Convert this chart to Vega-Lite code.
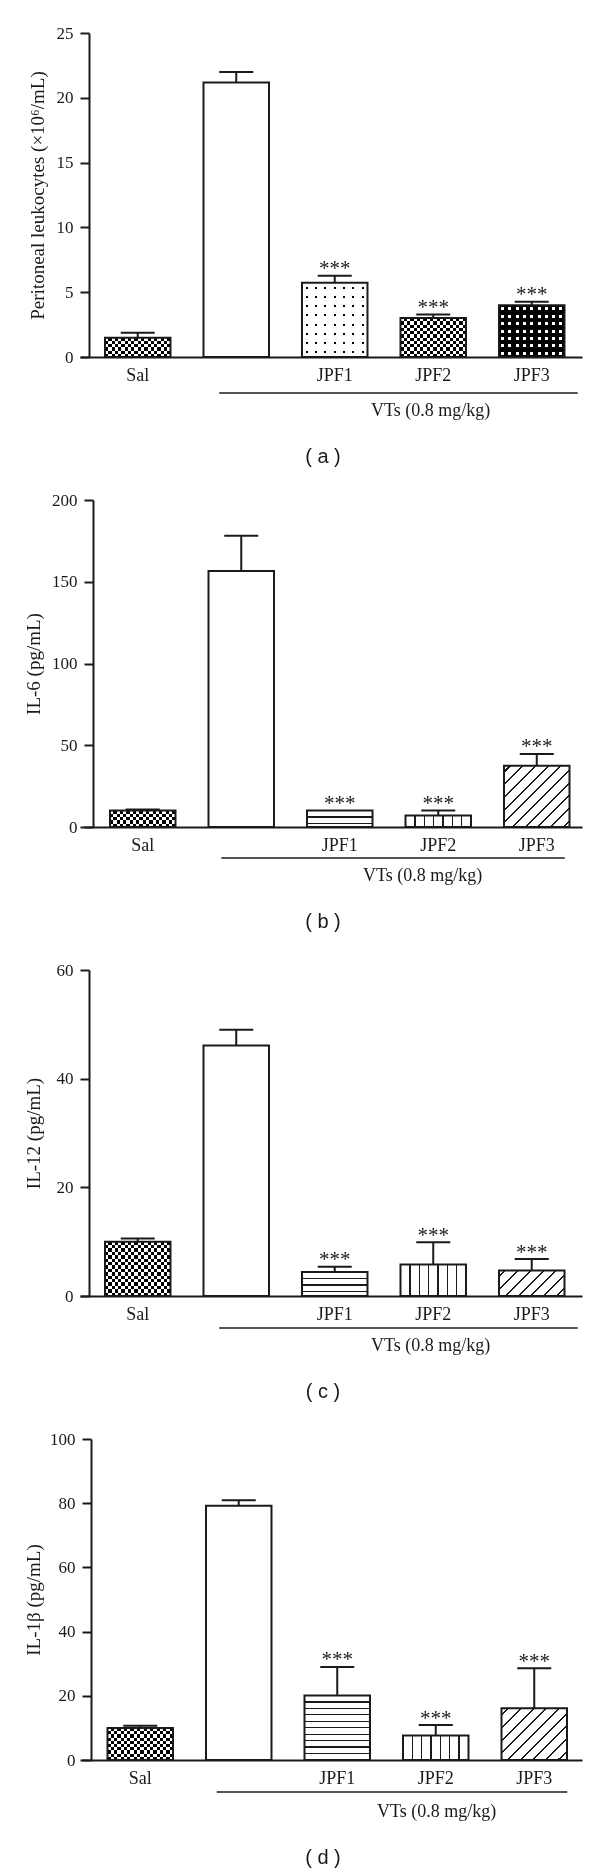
{
"$schema":"https://vega.github.io/schema/vega-lite/v6.json",
"padding":{"left":24,"top":24,"right":5,"bottom":5},
"background":"#ffffff",
"spacing":143,
"bounds":"flush",
"config":{
 "view":{"stroke":null},
 "axis":{"domainColor":"#1a1a1a","domainWidth":2,"tickColor":"#1a1a1a","tickWidth":2,"labelColor":"#1a1a1a","labelFont":"Liberation Serif","titleFont":"Liberation Serif","titleFontWeight":"normal","titleColor":"#1a1a1a","grid":false},
 "axisX":{"ticks":false,"labelFontSize":18,"labelPadding":9,"labelAngle":0,"titleFontSize":18,"titleBaseline":"alphabetic"},
 "axisY":{"tickSize":9,"labelFontSize":17,"labelPadding":7,"titleFontSize":19,"titleBaseline":"alphabetic"},
 "title":{"font":"Liberation Sans","fontSize":20,"fontWeight":"normal","color":"#1a1a1a","orient":"bottom","anchor":"middle","frame":"group","dx":-8,"offset":28}
},
"vconcat":[
{
 "width":502,"height":324,
 "title":{"text":"( a )"},
 "data":{"values":[
  {"g":"Sal","mean":1.49,"upper":1.87,"sig":""},
  {"g":"VT","mean":21.18,"upper":22.0,"sig":""},
  {"g":"JPF1","mean":5.72,"upper":6.26,"sig":"***"},
  {"g":"JPF2","mean":3.0,"upper":3.28,"sig":"***"},
  {"g":"JPF3","mean":4.0,"upper":4.26,"sig":"***"}
 ]},
 "encoding":{
  "x":{"field":"g","type":"nominal","sort":null,"scale":{"domain":["Sal","VT","JPF1","JPF2","JPF3"],"paddingInner":0.335,"paddingOuter":0.2157,"align":0.588},"axis":{"title":"VTs (0.8 mg/kg)","labelExpr":"datum.value == 'VT' ? '' : datum.value","titleX":350,"titleY":58}},
  "y":{"field":"mean","type":"quantitative","scale":{"domain":[0,25],"nice":false},"axis":{"values":[0,5,10,15,20,25],"title":"Peritoneal leukocytes (×10⁶/mL)","offset":-9,"titleX":-46}}
 },
 "layer":[
  {"mark":{"type":"bar","fill":"#ffffff"}},
  {"transform":[{"filter":"datum.g == 'Sal'"}],"mark":{"type":"bar","fill":{"gradient":"linear","x1":0,"y1":0,"x2":0,"y2":1,"stops":[{"offset":0,"color":"#000"},{"offset":0.1667,"color":"#000"},{"offset":0.1667,"color":"#fff"},{"offset":0.3333,"color":"#fff"},{"offset":0.3333,"color":"#000"},{"offset":0.5,"color":"#000"},{"offset":0.5,"color":"#fff"},{"offset":0.6667,"color":"#fff"},{"offset":0.6667,"color":"#000"},{"offset":0.8333,"color":"#000"},{"offset":0.8333,"color":"#fff"},{"offset":1,"color":"#fff"}]}}},
  {"transform":[{"filter":"datum.g == 'Sal'"}],"mark":{"type":"bar","blend":"difference","fill":{"gradient":"linear","x1":0,"y1":0,"x2":1,"y2":0,"stops":[{"offset":0,"color":"#fff"},{"offset":0.05,"color":"#fff"},{"offset":0.05,"color":"#000"},{"offset":0.1,"color":"#000"},{"offset":0.1,"color":"#fff"},{"offset":0.15,"color":"#fff"},{"offset":0.15,"color":"#000"},{"offset":0.2,"color":"#000"},{"offset":0.2,"color":"#fff"},{"offset":0.25,"color":"#fff"},{"offset":0.25,"color":"#000"},{"offset":0.3,"color":"#000"},{"offset":0.3,"color":"#fff"},{"offset":0.35,"color":"#fff"},{"offset":0.35,"color":"#000"},{"offset":0.4,"color":"#000"},{"offset":0.4,"color":"#fff"},{"offset":0.45,"color":"#fff"},{"offset":0.45,"color":"#000"},{"offset":0.5,"color":"#000"},{"offset":0.5,"color":"#fff"},{"offset":0.55,"color":"#fff"},{"offset":0.55,"color":"#000"},{"offset":0.6,"color":"#000"},{"offset":0.6,"color":"#fff"},{"offset":0.65,"color":"#fff"},{"offset":0.65,"color":"#000"},{"offset":0.7,"color":"#000"},{"offset":0.7,"color":"#fff"},{"offset":0.75,"color":"#fff"},{"offset":0.75,"color":"#000"},{"offset":0.8,"color":"#000"},{"offset":0.8,"color":"#fff"},{"offset":0.85,"color":"#fff"},{"offset":0.85,"color":"#000"},{"offset":0.9,"color":"#000"},{"offset":0.9,"color":"#fff"},{"offset":0.95,"color":"#fff"},{"offset":0.95,"color":"#000"},{"offset":1,"color":"#000"}]}}},
  {"transform":[{"filter":"datum.g == 'JPF2'"}],"mark":{"type":"bar","fill":{"gradient":"linear","x1":0,"y1":0,"x2":0,"y2":1,"stops":[{"offset":0,"color":"#000"},{"offset":0.0833,"color":"#000"},{"offset":0.0833,"color":"#fff"},{"offset":0.1667,"color":"#fff"},{"offset":0.1667,"color":"#000"},{"offset":0.25,"color":"#000"},{"offset":0.25,"color":"#fff"},{"offset":0.3333,"color":"#fff"},{"offset":0.3333,"color":"#000"},{"offset":0.4167,"color":"#000"},{"offset":0.4167,"color":"#fff"},{"offset":0.5,"color":"#fff"},{"offset":0.5,"color":"#000"},{"offset":0.5833,"color":"#000"},{"offset":0.5833,"color":"#fff"},{"offset":0.6667,"color":"#fff"},{"offset":0.6667,"color":"#000"},{"offset":0.75,"color":"#000"},{"offset":0.75,"color":"#fff"},{"offset":0.8333,"color":"#fff"},{"offset":0.8333,"color":"#000"},{"offset":0.9167,"color":"#000"},{"offset":0.9167,"color":"#fff"},{"offset":1,"color":"#fff"}]}}},
  {"transform":[{"filter":"datum.g == 'JPF2'"}],"mark":{"type":"bar","blend":"difference","fill":{"gradient":"linear","x1":0,"y1":0,"x2":1,"y2":0,"stops":[{"offset":0,"color":"#fff"},{"offset":0.05,"color":"#fff"},{"offset":0.05,"color":"#000"},{"offset":0.1,"color":"#000"},{"offset":0.1,"color":"#fff"},{"offset":0.15,"color":"#fff"},{"offset":0.15,"color":"#000"},{"offset":0.2,"color":"#000"},{"offset":0.2,"color":"#fff"},{"offset":0.25,"color":"#fff"},{"offset":0.25,"color":"#000"},{"offset":0.3,"color":"#000"},{"offset":0.3,"color":"#fff"},{"offset":0.35,"color":"#fff"},{"offset":0.35,"color":"#000"},{"offset":0.4,"color":"#000"},{"offset":0.4,"color":"#fff"},{"offset":0.45,"color":"#fff"},{"offset":0.45,"color":"#000"},{"offset":0.5,"color":"#000"},{"offset":0.5,"color":"#fff"},{"offset":0.55,"color":"#fff"},{"offset":0.55,"color":"#000"},{"offset":0.6,"color":"#000"},{"offset":0.6,"color":"#fff"},{"offset":0.65,"color":"#fff"},{"offset":0.65,"color":"#000"},{"offset":0.7,"color":"#000"},{"offset":0.7,"color":"#fff"},{"offset":0.75,"color":"#fff"},{"offset":0.75,"color":"#000"},{"offset":0.8,"color":"#000"},{"offset":0.8,"color":"#fff"},{"offset":0.85,"color":"#fff"},{"offset":0.85,"color":"#000"},{"offset":0.9,"color":"#000"},{"offset":0.9,"color":"#fff"},{"offset":0.95,"color":"#fff"},{"offset":0.95,"color":"#000"},{"offset":1,"color":"#000"}]}}},
  {"transform":[{"filter":"datum.g == 'JPF1'"}],"mark":{"type":"bar","fill":{"gradient":"linear","x1":0,"y1":0,"x2":0,"y2":1,"stops":[{"offset":0,"color":"#fff"},{"offset":0.049,"color":"#fff"},{"offset":0.049,"color":"#000"},{"offset":0.076,"color":"#000"},{"offset":0.076,"color":"#fff"},{"offset":0.174,"color":"#fff"},{"offset":0.174,"color":"#000"},{"offset":0.201,"color":"#000"},{"offset":0.201,"color":"#fff"},{"offset":0.299,"color":"#fff"},{"offset":0.299,"color":"#000"},{"offset":0.326,"color":"#000"},{"offset":0.326,"color":"#fff"},{"offset":0.424,"color":"#fff"},{"offset":0.424,"color":"#000"},{"offset":0.451,"color":"#000"},{"offset":0.451,"color":"#fff"},{"offset":0.549,"color":"#fff"},{"offset":0.549,"color":"#000"},{"offset":0.576,"color":"#000"},{"offset":0.576,"color":"#fff"},{"offset":0.674,"color":"#fff"},{"offset":0.674,"color":"#000"},{"offset":0.701,"color":"#000"},{"offset":0.701,"color":"#fff"},{"offset":0.799,"color":"#fff"},{"offset":0.799,"color":"#000"},{"offset":0.826,"color":"#000"},{"offset":0.826,"color":"#fff"},{"offset":0.924,"color":"#fff"},{"offset":0.924,"color":"#000"},{"offset":0.951,"color":"#000"},{"offset":0.951,"color":"#fff"},{"offset":1,"color":"#fff"}]}}},
  {"transform":[{"filter":"datum.g == 'JPF1'"}],"mark":{"type":"bar","blend":"lighten","fill":{"gradient":"linear","x1":0,"y1":0,"x2":1,"y2":0,"stops":[{"offset":0,"color":"#fff"},{"offset":0.0564,"color":"#fff"},{"offset":0.0564,"color":"#000"},{"offset":0.0864,"color":"#000"},{"offset":0.0864,"color":"#fff"},{"offset":0.1993,"color":"#fff"},{"offset":0.1993,"color":"#000"},{"offset":0.2293,"color":"#000"},{"offset":0.2293,"color":"#fff"},{"offset":0.3421,"color":"#fff"},{"offset":0.3421,"color":"#000"},{"offset":0.3721,"color":"#000"},{"offset":0.3721,"color":"#fff"},{"offset":0.485,"color":"#fff"},{"offset":0.485,"color":"#000"},{"offset":0.515,"color":"#000"},{"offset":0.515,"color":"#fff"},{"offset":0.6279,"color":"#fff"},{"offset":0.6279,"color":"#000"},{"offset":0.6579,"color":"#000"},{"offset":0.6579,"color":"#fff"},{"offset":0.7707,"color":"#fff"},{"offset":0.7707,"color":"#000"},{"offset":0.8007,"color":"#000"},{"offset":0.8007,"color":"#fff"},{"offset":0.9136,"color":"#fff"},{"offset":0.9136,"color":"#000"},{"offset":0.9436,"color":"#000"},{"offset":0.9436,"color":"#fff"},{"offset":1,"color":"#fff"}]}}},
  {"transform":[{"filter":"datum.g == 'JPF3'"}],"mark":{"type":"bar","fill":{"gradient":"linear","x1":0,"y1":0,"x2":0,"y2":1,"stops":[{"offset":0,"color":"#000"},{"offset":0.0424,"color":"#000"},{"offset":0.0424,"color":"#fff"},{"offset":0.1004,"color":"#fff"},{"offset":0.1004,"color":"#000"},{"offset":0.1853,"color":"#000"},{"offset":0.1853,"color":"#fff"},{"offset":0.2433,"color":"#fff"},{"offset":0.2433,"color":"#000"},{"offset":0.3281,"color":"#000"},{"offset":0.3281,"color":"#fff"},{"offset":0.3861,"color":"#fff"},{"offset":0.3861,"color":"#000"},{"offset":0.471,"color":"#000"},{"offset":0.471,"color":"#fff"},{"offset":0.529,"color":"#fff"},{"offset":0.529,"color":"#000"},{"offset":0.6139,"color":"#000"},{"offset":0.6139,"color":"#fff"},{"offset":0.6719,"color":"#fff"},{"offset":0.6719,"color":"#000"},{"offset":0.7567,"color":"#000"},{"offset":0.7567,"color":"#fff"},{"offset":0.8147,"color":"#fff"},{"offset":0.8147,"color":"#000"},{"offset":0.8996,"color":"#000"},{"offset":0.8996,"color":"#fff"},{"offset":0.9576,"color":"#fff"},{"offset":0.9576,"color":"#000"},{"offset":1,"color":"#000"}]}}},
  {"transform":[{"filter":"datum.g == 'JPF3'"}],"mark":{"type":"bar","blend":"darken","fill":{"gradient":"linear","x1":0,"y1":0,"x2":1,"y2":0,"stops":[{"offset":0,"color":"#000"},{"offset":0.0326,"color":"#000"},{"offset":0.0326,"color":"#fff"},{"offset":0.0786,"color":"#fff"},{"offset":0.0786,"color":"#000"},{"offset":0.1437,"color":"#000"},{"offset":0.1437,"color":"#fff"},{"offset":0.1897,"color":"#fff"},{"offset":0.1897,"color":"#000"},{"offset":0.2548,"color":"#000"},{"offset":0.2548,"color":"#fff"},{"offset":0.3008,"color":"#fff"},{"offset":0.3008,"color":"#000"},{"offset":0.3659,"color":"#000"},{"offset":0.3659,"color":"#fff"},{"offset":0.4119,"color":"#fff"},{"offset":0.4119,"color":"#000"},{"offset":0.477,"color":"#000"},{"offset":0.477,"color":"#fff"},{"offset":0.523,"color":"#fff"},{"offset":0.523,"color":"#000"},{"offset":0.5881,"color":"#000"},{"offset":0.5881,"color":"#fff"},{"offset":0.6341,"color":"#fff"},{"offset":0.6341,"color":"#000"},{"offset":0.6992,"color":"#000"},{"offset":0.6992,"color":"#fff"},{"offset":0.7452,"color":"#fff"},{"offset":0.7452,"color":"#000"},{"offset":0.8103,"color":"#000"},{"offset":0.8103,"color":"#fff"},{"offset":0.8563,"color":"#fff"},{"offset":0.8563,"color":"#000"},{"offset":0.9214,"color":"#000"},{"offset":0.9214,"color":"#fff"},{"offset":0.9674,"color":"#fff"},{"offset":0.9674,"color":"#000"},{"offset":1,"color":"#000"}]}}},
  {"mark":{"type":"bar","fill":"transparent","stroke":"#1a1a1a","strokeWidth":2}},
  {"transform":[{"filter":"datum.upper > datum.mean"}],"mark":{"type":"rule","stroke":"#1a1a1a","strokeWidth":2},"encoding":{"y2":{"field":"upper"}}},
  {"transform":[{"filter":"datum.upper > datum.mean"}],"mark":{"type":"tick","color":"#1a1a1a","size":34,"thickness":2,"opacity":1},"encoding":{"y":{"field":"upper","type":"quantitative"}}},
  {"transform":[{"filter":"datum.sig != ''"}],"mark":{"type":"text","font":"Liberation Serif","fontSize":21,"color":"#1a1a1a","baseline":"alphabetic","dy":-0.5},"encoding":{"y":{"field":"upper","type":"quantitative"},"text":{"field":"sig"}}},
  {"transform":[{"filter":"datum.g == 'VT'"}],"mark":{"type":"rule","stroke":"#1a1a1a","strokeWidth":1.5,"xOffset":-17,"x2Offset":46},"encoding":{"x":{"datum":"VT"},"x2":{"datum":"JPF3"},"y":{"datum":-2.78}}}
 ]
},
{
 "width":502,"height":327,
 "title":{"text":"( b )"},
 "data":{"values":[
  {"g":"Sal","mean":10.1,"upper":10.7,"sig":""},
  {"g":"VT","mean":156.5,"upper":178.2,"sig":""},
  {"g":"JPF1","mean":10.1,"upper":10.1,"sig":"***"},
  {"g":"JPF2","mean":7.0,"upper":10.1,"sig":"***"},
  {"g":"JPF3","mean":37.5,"upper":44.7,"sig":"***"}
 ]},
 "encoding":{
  "x":{"field":"g","type":"nominal","sort":null,"scale":{"domain":["Sal","VT","JPF1","JPF2","JPF3"],"paddingInner":0.335,"paddingOuter":0.2157,"align":0.706},"axis":{"title":"VTs (0.8 mg/kg)","labelExpr":"datum.value == 'VT' ? '' : datum.value","titleX":342,"titleY":53}},
  "y":{"field":"mean","type":"quantitative","scale":{"domain":[0,200],"nice":false},"axis":{"values":[0,50,100,150,200],"title":"IL-6 (pg/mL)","offset":-13,"titleX":-54}}
 },
 "layer":[
  {"mark":{"type":"bar","fill":"#ffffff"}},
  {"transform":[{"filter":"datum.g == 'Sal'"}],"mark":{"type":"bar","fill":{"gradient":"linear","x1":0,"y1":0,"x2":0,"y2":1,"stops":[{"offset":0,"color":"#000"},{"offset":0.2,"color":"#000"},{"offset":0.2,"color":"#fff"},{"offset":0.4,"color":"#fff"},{"offset":0.4,"color":"#000"},{"offset":0.6,"color":"#000"},{"offset":0.6,"color":"#fff"},{"offset":0.8,"color":"#fff"},{"offset":0.8,"color":"#000"},{"offset":1,"color":"#000"}]}}},
  {"transform":[{"filter":"datum.g == 'Sal'"}],"mark":{"type":"bar","blend":"difference","fill":{"gradient":"linear","x1":0,"y1":0,"x2":1,"y2":0,"stops":[{"offset":0,"color":"#fff"},{"offset":0.05,"color":"#fff"},{"offset":0.05,"color":"#000"},{"offset":0.1,"color":"#000"},{"offset":0.1,"color":"#fff"},{"offset":0.15,"color":"#fff"},{"offset":0.15,"color":"#000"},{"offset":0.2,"color":"#000"},{"offset":0.2,"color":"#fff"},{"offset":0.25,"color":"#fff"},{"offset":0.25,"color":"#000"},{"offset":0.3,"color":"#000"},{"offset":0.3,"color":"#fff"},{"offset":0.35,"color":"#fff"},{"offset":0.35,"color":"#000"},{"offset":0.4,"color":"#000"},{"offset":0.4,"color":"#fff"},{"offset":0.45,"color":"#fff"},{"offset":0.45,"color":"#000"},{"offset":0.5,"color":"#000"},{"offset":0.5,"color":"#fff"},{"offset":0.55,"color":"#fff"},{"offset":0.55,"color":"#000"},{"offset":0.6,"color":"#000"},{"offset":0.6,"color":"#fff"},{"offset":0.65,"color":"#fff"},{"offset":0.65,"color":"#000"},{"offset":0.7,"color":"#000"},{"offset":0.7,"color":"#fff"},{"offset":0.75,"color":"#fff"},{"offset":0.75,"color":"#000"},{"offset":0.8,"color":"#000"},{"offset":0.8,"color":"#fff"},{"offset":0.85,"color":"#fff"},{"offset":0.85,"color":"#000"},{"offset":0.9,"color":"#000"},{"offset":0.9,"color":"#fff"},{"offset":0.95,"color":"#fff"},{"offset":0.95,"color":"#000"},{"offset":1,"color":"#000"}]}}},
  {"transform":[{"filter":"datum.g == 'JPF1'"}],"mark":{"type":"bar","fill":{"gradient":"linear","x1":0,"y1":0,"x2":0,"y2":1,"stops":[{"offset":0,"color":"#fff"},{"offset":0.36,"color":"#fff"},{"offset":0.36,"color":"#1a1a1a"},{"offset":0.44,"color":"#1a1a1a"},{"offset":0.44,"color":"#fff"},{"offset":0.74,"color":"#fff"},{"offset":0.74,"color":"#1a1a1a"},{"offset":0.82,"color":"#1a1a1a"},{"offset":0.82,"color":"#fff"},{"offset":1,"color":"#fff"}]}}},
  {"transform":[{"filter":"datum.g == 'JPF2'"}],"mark":{"type":"bar","fill":{"gradient":"linear","x1":0,"y1":0,"x2":1,"y2":0,"stops":[{"offset":0,"color":"#fff"},{"offset":0.1329,"color":"#fff"},{"offset":0.1329,"color":"#1a1a1a"},{"offset":0.1529,"color":"#1a1a1a"},{"offset":0.1529,"color":"#fff"},{"offset":0.2757,"color":"#fff"},{"offset":0.2757,"color":"#1a1a1a"},{"offset":0.2957,"color":"#1a1a1a"},{"offset":0.2957,"color":"#fff"},{"offset":0.4186,"color":"#fff"},{"offset":0.4186,"color":"#1a1a1a"},{"offset":0.4386,"color":"#1a1a1a"},{"offset":0.4386,"color":"#fff"},{"offset":0.5614,"color":"#fff"},{"offset":0.5614,"color":"#1a1a1a"},{"offset":0.5814,"color":"#1a1a1a"},{"offset":0.5814,"color":"#fff"},{"offset":0.7043,"color":"#fff"},{"offset":0.7043,"color":"#1a1a1a"},{"offset":0.7243,"color":"#1a1a1a"},{"offset":0.7243,"color":"#fff"},{"offset":0.8471,"color":"#fff"},{"offset":0.8471,"color":"#1a1a1a"},{"offset":0.8671,"color":"#1a1a1a"},{"offset":0.8671,"color":"#fff"},{"offset":1,"color":"#fff"}]}}},
  {"transform":[{"filter":"datum.g == 'JPF3'"}],"mark":{"type":"bar","fill":{"gradient":"linear","x1":0,"y1":0,"x2":1.032,"y2":0.966,"stops":[{"offset":0,"color":"#fff"},{"offset":0.0417,"color":"#fff"},{"offset":0.0417,"color":"#1a1a1a"},{"offset":0.0583,"color":"#1a1a1a"},{"offset":0.0583,"color":"#fff"},{"offset":0.1417,"color":"#fff"},{"offset":0.1417,"color":"#1a1a1a"},{"offset":0.1583,"color":"#1a1a1a"},{"offset":0.1583,"color":"#fff"},{"offset":0.2417,"color":"#fff"},{"offset":0.2417,"color":"#1a1a1a"},{"offset":0.2583,"color":"#1a1a1a"},{"offset":0.2583,"color":"#fff"},{"offset":0.3417,"color":"#fff"},{"offset":0.3417,"color":"#1a1a1a"},{"offset":0.3583,"color":"#1a1a1a"},{"offset":0.3583,"color":"#fff"},{"offset":0.4417,"color":"#fff"},{"offset":0.4417,"color":"#1a1a1a"},{"offset":0.4583,"color":"#1a1a1a"},{"offset":0.4583,"color":"#fff"},{"offset":0.5417,"color":"#fff"},{"offset":0.5417,"color":"#1a1a1a"},{"offset":0.5583,"color":"#1a1a1a"},{"offset":0.5583,"color":"#fff"},{"offset":0.6417,"color":"#fff"},{"offset":0.6417,"color":"#1a1a1a"},{"offset":0.6583,"color":"#1a1a1a"},{"offset":0.6583,"color":"#fff"},{"offset":0.7417,"color":"#fff"},{"offset":0.7417,"color":"#1a1a1a"},{"offset":0.7583,"color":"#1a1a1a"},{"offset":0.7583,"color":"#fff"},{"offset":0.8417,"color":"#fff"},{"offset":0.8417,"color":"#1a1a1a"},{"offset":0.8583,"color":"#1a1a1a"},{"offset":0.8583,"color":"#fff"},{"offset":0.9417,"color":"#fff"},{"offset":0.9417,"color":"#1a1a1a"},{"offset":0.9583,"color":"#1a1a1a"},{"offset":0.9583,"color":"#fff"},{"offset":1,"color":"#fff"}]}}},
  {"mark":{"type":"bar","fill":"transparent","stroke":"#1a1a1a","strokeWidth":2}},
  {"transform":[{"filter":"datum.upper > datum.mean"}],"mark":{"type":"rule","stroke":"#1a1a1a","strokeWidth":2},"encoding":{"y2":{"field":"upper"}}},
  {"transform":[{"filter":"datum.upper > datum.mean"}],"mark":{"type":"tick","color":"#1a1a1a","size":34,"thickness":2,"opacity":1},"encoding":{"y":{"field":"upper","type":"quantitative"}}},
  {"transform":[{"filter":"datum.sig != ''"}],"mark":{"type":"text","font":"Liberation Serif","fontSize":21,"color":"#1a1a1a","baseline":"alphabetic","dy":-0.5},"encoding":{"y":{"field":"upper","type":"quantitative"},"text":{"field":"sig"}}},
  {"transform":[{"filter":"datum.g == 'VT'"}],"mark":{"type":"rule","stroke":"#1a1a1a","strokeWidth":1.5,"xOffset":-20,"x2Offset":28},"encoding":{"x":{"datum":"VT"},"x2":{"datum":"JPF3"},"y":{"datum":-19}}}
 ]
},
{
 "width":502,"height":326,
 "title":{"text":"( c )"},
 "data":{"values":[
  {"g":"Sal","mean":10.0,"upper":10.57,"sig":""},
  {"g":"VT","mean":46.1,"upper":49.0,"sig":""},
  {"g":"JPF1","mean":4.4,"upper":5.4,"sig":"***"},
  {"g":"JPF2","mean":5.8,"upper":9.9,"sig":"***"},
  {"g":"JPF3","mean":4.7,"upper":6.8,"sig":"***"}
 ]},
 "encoding":{
  "x":{"field":"g","type":"nominal","sort":null,"scale":{"domain":["Sal","VT","JPF1","JPF2","JPF3"],"paddingInner":0.335,"paddingOuter":0.2157,"align":0.588},"axis":{"title":"VTs (0.8 mg/kg)","labelExpr":"datum.value == 'VT' ? '' : datum.value","titleX":350,"titleY":54}},
  "y":{"field":"mean","type":"quantitative","scale":{"domain":[0,60],"nice":false},"axis":{"values":[0,20,40,60],"title":"IL-12 (pg/mL)","offset":-9,"titleX":-50}}
 },
 "layer":[
  {"mark":{"type":"bar","fill":"#ffffff"}},
  {"transform":[{"filter":"datum.g == 'Sal'"}],"mark":{"type":"bar","fill":{"gradient":"linear","x1":0,"y1":0,"x2":0,"y2":1,"stops":[{"offset":0,"color":"#000"},{"offset":0.0625,"color":"#000"},{"offset":0.0625,"color":"#fff"},{"offset":0.125,"color":"#fff"},{"offset":0.125,"color":"#000"},{"offset":0.1875,"color":"#000"},{"offset":0.1875,"color":"#fff"},{"offset":0.25,"color":"#fff"},{"offset":0.25,"color":"#000"},{"offset":0.3125,"color":"#000"},{"offset":0.3125,"color":"#fff"},{"offset":0.375,"color":"#fff"},{"offset":0.375,"color":"#000"},{"offset":0.4375,"color":"#000"},{"offset":0.4375,"color":"#fff"},{"offset":0.5,"color":"#fff"},{"offset":0.5,"color":"#000"},{"offset":0.5625,"color":"#000"},{"offset":0.5625,"color":"#fff"},{"offset":0.625,"color":"#fff"},{"offset":0.625,"color":"#000"},{"offset":0.6875,"color":"#000"},{"offset":0.6875,"color":"#fff"},{"offset":0.75,"color":"#fff"},{"offset":0.75,"color":"#000"},{"offset":0.8125,"color":"#000"},{"offset":0.8125,"color":"#fff"},{"offset":0.875,"color":"#fff"},{"offset":0.875,"color":"#000"},{"offset":0.9375,"color":"#000"},{"offset":0.9375,"color":"#fff"},{"offset":1,"color":"#fff"}]}}},
  {"transform":[{"filter":"datum.g == 'Sal'"}],"mark":{"type":"bar","blend":"difference","fill":{"gradient":"linear","x1":0,"y1":0,"x2":1,"y2":0,"stops":[{"offset":0,"color":"#fff"},{"offset":0.05,"color":"#fff"},{"offset":0.05,"color":"#000"},{"offset":0.1,"color":"#000"},{"offset":0.1,"color":"#fff"},{"offset":0.15,"color":"#fff"},{"offset":0.15,"color":"#000"},{"offset":0.2,"color":"#000"},{"offset":0.2,"color":"#fff"},{"offset":0.25,"color":"#fff"},{"offset":0.25,"color":"#000"},{"offset":0.3,"color":"#000"},{"offset":0.3,"color":"#fff"},{"offset":0.35,"color":"#fff"},{"offset":0.35,"color":"#000"},{"offset":0.4,"color":"#000"},{"offset":0.4,"color":"#fff"},{"offset":0.45,"color":"#fff"},{"offset":0.45,"color":"#000"},{"offset":0.5,"color":"#000"},{"offset":0.5,"color":"#fff"},{"offset":0.55,"color":"#fff"},{"offset":0.55,"color":"#000"},{"offset":0.6,"color":"#000"},{"offset":0.6,"color":"#fff"},{"offset":0.65,"color":"#fff"},{"offset":0.65,"color":"#000"},{"offset":0.7,"color":"#000"},{"offset":0.7,"color":"#fff"},{"offset":0.75,"color":"#fff"},{"offset":0.75,"color":"#000"},{"offset":0.8,"color":"#000"},{"offset":0.8,"color":"#fff"},{"offset":0.85,"color":"#fff"},{"offset":0.85,"color":"#000"},{"offset":0.9,"color":"#000"},{"offset":0.9,"color":"#fff"},{"offset":0.95,"color":"#fff"},{"offset":0.95,"color":"#000"},{"offset":1,"color":"#000"}]}}},
  {"transform":[{"filter":"datum.g == 'JPF1'"}],"mark":{"type":"bar","fill":{"gradient":"linear","x1":0,"y1":0,"x2":0,"y2":1,"stops":[{"offset":0,"color":"#fff"},{"offset":0.243,"color":"#fff"},{"offset":0.243,"color":"#1a1a1a"},{"offset":0.297,"color":"#1a1a1a"},{"offset":0.297,"color":"#fff"},{"offset":0.513,"color":"#fff"},{"offset":0.513,"color":"#1a1a1a"},{"offset":0.567,"color":"#1a1a1a"},{"offset":0.567,"color":"#fff"},{"offset":0.783,"color":"#fff"},{"offset":0.783,"color":"#1a1a1a"},{"offset":0.837,"color":"#1a1a1a"},{"offset":0.837,"color":"#fff"},{"offset":1,"color":"#fff"}]}}},
  {"transform":[{"filter":"datum.g == 'JPF2'"}],"mark":{"type":"bar","fill":{"gradient":"linear","x1":0,"y1":0,"x2":1,"y2":0,"stops":[{"offset":0,"color":"#fff"},{"offset":0.1329,"color":"#fff"},{"offset":0.1329,"color":"#1a1a1a"},{"offset":0.1529,"color":"#1a1a1a"},{"offset":0.1529,"color":"#fff"},{"offset":0.2757,"color":"#fff"},{"offset":0.2757,"color":"#1a1a1a"},{"offset":0.2957,"color":"#1a1a1a"},{"offset":0.2957,"color":"#fff"},{"offset":0.4186,"color":"#fff"},{"offset":0.4186,"color":"#1a1a1a"},{"offset":0.4386,"color":"#1a1a1a"},{"offset":0.4386,"color":"#fff"},{"offset":0.5614,"color":"#fff"},{"offset":0.5614,"color":"#1a1a1a"},{"offset":0.5814,"color":"#1a1a1a"},{"offset":0.5814,"color":"#fff"},{"offset":0.7043,"color":"#fff"},{"offset":0.7043,"color":"#1a1a1a"},{"offset":0.7243,"color":"#1a1a1a"},{"offset":0.7243,"color":"#fff"},{"offset":0.8471,"color":"#fff"},{"offset":0.8471,"color":"#1a1a1a"},{"offset":0.8671,"color":"#1a1a1a"},{"offset":0.8671,"color":"#fff"},{"offset":1,"color":"#fff"}]}}},
  {"transform":[{"filter":"datum.g == 'JPF3'"}],"mark":{"type":"bar","fill":{"gradient":"linear","x1":0,"y1":0,"x2":1.207,"y2":0.47,"stops":[{"offset":0,"color":"#fff"},{"offset":0.0585,"color":"#fff"},{"offset":0.0585,"color":"#1a1a1a"},{"offset":0.0815,"color":"#1a1a1a"},{"offset":0.0815,"color":"#fff"},{"offset":0.1985,"color":"#fff"},{"offset":0.1985,"color":"#1a1a1a"},{"offset":0.2215,"color":"#1a1a1a"},{"offset":0.2215,"color":"#fff"},{"offset":0.3385,"color":"#fff"},{"offset":0.3385,"color":"#1a1a1a"},{"offset":0.3615,"color":"#1a1a1a"},{"offset":0.3615,"color":"#fff"},{"offset":0.4785,"color":"#fff"},{"offset":0.4785,"color":"#1a1a1a"},{"offset":0.5015,"color":"#1a1a1a"},{"offset":0.5015,"color":"#fff"},{"offset":0.6185,"color":"#fff"},{"offset":0.6185,"color":"#1a1a1a"},{"offset":0.6415,"color":"#1a1a1a"},{"offset":0.6415,"color":"#fff"},{"offset":0.7585,"color":"#fff"},{"offset":0.7585,"color":"#1a1a1a"},{"offset":0.7815,"color":"#1a1a1a"},{"offset":0.7815,"color":"#fff"},{"offset":0.8985,"color":"#fff"},{"offset":0.8985,"color":"#1a1a1a"},{"offset":0.9215,"color":"#1a1a1a"},{"offset":0.9215,"color":"#fff"},{"offset":1,"color":"#fff"}]}}},
  {"mark":{"type":"bar","fill":"transparent","stroke":"#1a1a1a","strokeWidth":2}},
  {"transform":[{"filter":"datum.upper > datum.mean"}],"mark":{"type":"rule","stroke":"#1a1a1a","strokeWidth":2},"encoding":{"y2":{"field":"upper"}}},
  {"transform":[{"filter":"datum.upper > datum.mean"}],"mark":{"type":"tick","color":"#1a1a1a","size":34,"thickness":2,"opacity":1},"encoding":{"y":{"field":"upper","type":"quantitative"}}},
  {"transform":[{"filter":"datum.sig != ''"}],"mark":{"type":"text","font":"Liberation Serif","fontSize":21,"color":"#1a1a1a","baseline":"alphabetic","dy":-0.5},"encoding":{"y":{"field":"upper","type":"quantitative"},"text":{"field":"sig"}}},
  {"transform":[{"filter":"datum.g == 'VT'"}],"mark":{"type":"rule","stroke":"#1a1a1a","strokeWidth":1.5,"xOffset":-17,"x2Offset":46},"encoding":{"x":{"datum":"VT"},"x2":{"datum":"JPF3"},"y":{"datum":-5.89}}}
 ]
},
{
 "width":502,"height":321,
 "title":{"text":"( d )"},
 "data":{"values":[
  {"g":"Sal","mean":10.0,"upper":10.7,"sig":""},
  {"g":"VT","mean":79.2,"upper":80.9,"sig":""},
  {"g":"JPF1","mean":20.1,"upper":29.0,"sig":"***"},
  {"g":"JPF2","mean":7.6,"upper":10.9,"sig":"***"},
  {"g":"JPF3","mean":16.1,"upper":28.6,"sig":"***"}
 ]},
 "encoding":{
  "x":{"field":"g","type":"nominal","sort":null,"scale":{"domain":["Sal","VT","JPF1","JPF2","JPF3"],"paddingInner":0.335,"paddingOuter":0.2157,"align":0.647},"axis":{"title":"VTs (0.8 mg/kg)","labelExpr":"datum.value == 'VT' ? '' : datum.value","titleX":356,"titleY":56}},
  "y":{"field":"mean","type":"quantitative","scale":{"domain":[0,100],"nice":false},"axis":{"values":[0,20,40,60,80,100],"title":"IL-1β (pg/mL)","offset":-11,"titleX":-52}}
 },
 "layer":[
  {"mark":{"type":"bar","fill":"#ffffff"}},
  {"transform":[{"filter":"datum.g == 'Sal'"}],"mark":{"type":"bar","fill":{"gradient":"linear","x1":0,"y1":0,"x2":0,"y2":1,"stops":[{"offset":0,"color":"#000"},{"offset":0.1,"color":"#000"},{"offset":0.1,"color":"#fff"},{"offset":0.2,"color":"#fff"},{"offset":0.2,"color":"#000"},{"offset":0.3,"color":"#000"},{"offset":0.3,"color":"#fff"},{"offset":0.4,"color":"#fff"},{"offset":0.4,"color":"#000"},{"offset":0.5,"color":"#000"},{"offset":0.5,"color":"#fff"},{"offset":0.6,"color":"#fff"},{"offset":0.6,"color":"#000"},{"offset":0.7,"color":"#000"},{"offset":0.7,"color":"#fff"},{"offset":0.8,"color":"#fff"},{"offset":0.8,"color":"#000"},{"offset":0.9,"color":"#000"},{"offset":0.9,"color":"#fff"},{"offset":1,"color":"#fff"}]}}},
  {"transform":[{"filter":"datum.g == 'Sal'"}],"mark":{"type":"bar","blend":"difference","fill":{"gradient":"linear","x1":0,"y1":0,"x2":1,"y2":0,"stops":[{"offset":0,"color":"#fff"},{"offset":0.05,"color":"#fff"},{"offset":0.05,"color":"#000"},{"offset":0.1,"color":"#000"},{"offset":0.1,"color":"#fff"},{"offset":0.15,"color":"#fff"},{"offset":0.15,"color":"#000"},{"offset":0.2,"color":"#000"},{"offset":0.2,"color":"#fff"},{"offset":0.25,"color":"#fff"},{"offset":0.25,"color":"#000"},{"offset":0.3,"color":"#000"},{"offset":0.3,"color":"#fff"},{"offset":0.35,"color":"#fff"},{"offset":0.35,"color":"#000"},{"offset":0.4,"color":"#000"},{"offset":0.4,"color":"#fff"},{"offset":0.45,"color":"#fff"},{"offset":0.45,"color":"#000"},{"offset":0.5,"color":"#000"},{"offset":0.5,"color":"#fff"},{"offset":0.55,"color":"#fff"},{"offset":0.55,"color":"#000"},{"offset":0.6,"color":"#000"},{"offset":0.6,"color":"#fff"},{"offset":0.65,"color":"#fff"},{"offset":0.65,"color":"#000"},{"offset":0.7,"color":"#000"},{"offset":0.7,"color":"#fff"},{"offset":0.75,"color":"#fff"},{"offset":0.75,"color":"#000"},{"offset":0.8,"color":"#000"},{"offset":0.8,"color":"#fff"},{"offset":0.85,"color":"#fff"},{"offset":0.85,"color":"#000"},{"offset":0.9,"color":"#000"},{"offset":0.9,"color":"#fff"},{"offset":0.95,"color":"#fff"},{"offset":0.95,"color":"#000"},{"offset":1,"color":"#000"}]}}},
  {"transform":[{"filter":"datum.g == 'JPF1'"}],"mark":{"type":"bar","fill":{"gradient":"linear","x1":0,"y1":0,"x2":0,"y2":1,"stops":[{"offset":0,"color":"#fff"},{"offset":0.09,"color":"#fff"},{"offset":0.09,"color":"#1a1a1a"},{"offset":0.11,"color":"#1a1a1a"},{"offset":0.11,"color":"#fff"},{"offset":0.19,"color":"#fff"},{"offset":0.19,"color":"#1a1a1a"},{"offset":0.21,"color":"#1a1a1a"},{"offset":0.21,"color":"#fff"},{"offset":0.29,"color":"#fff"},{"offset":0.29,"color":"#1a1a1a"},{"offset":0.31,"color":"#1a1a1a"},{"offset":0.31,"color":"#fff"},{"offset":0.39,"color":"#fff"},{"offset":0.39,"color":"#1a1a1a"},{"offset":0.41,"color":"#1a1a1a"},{"offset":0.41,"color":"#fff"},{"offset":0.49,"color":"#fff"},{"offset":0.49,"color":"#1a1a1a"},{"offset":0.51,"color":"#1a1a1a"},{"offset":0.51,"color":"#fff"},{"offset":0.59,"color":"#fff"},{"offset":0.59,"color":"#1a1a1a"},{"offset":0.61,"color":"#1a1a1a"},{"offset":0.61,"color":"#fff"},{"offset":0.69,"color":"#fff"},{"offset":0.69,"color":"#1a1a1a"},{"offset":0.71,"color":"#1a1a1a"},{"offset":0.71,"color":"#fff"},{"offset":0.79,"color":"#fff"},{"offset":0.79,"color":"#1a1a1a"},{"offset":0.81,"color":"#1a1a1a"},{"offset":0.81,"color":"#fff"},{"offset":0.89,"color":"#fff"},{"offset":0.89,"color":"#1a1a1a"},{"offset":0.91,"color":"#1a1a1a"},{"offset":0.91,"color":"#fff"},{"offset":1,"color":"#fff"}]}}},
  {"transform":[{"filter":"datum.g == 'JPF2'"}],"mark":{"type":"bar","fill":{"gradient":"linear","x1":0,"y1":0,"x2":1,"y2":0,"stops":[{"offset":0,"color":"#fff"},{"offset":0.1329,"color":"#fff"},{"offset":0.1329,"color":"#1a1a1a"},{"offset":0.1529,"color":"#1a1a1a"},{"offset":0.1529,"color":"#fff"},{"offset":0.2757,"color":"#fff"},{"offset":0.2757,"color":"#1a1a1a"},{"offset":0.2957,"color":"#1a1a1a"},{"offset":0.2957,"color":"#fff"},{"offset":0.4186,"color":"#fff"},{"offset":0.4186,"color":"#1a1a1a"},{"offset":0.4386,"color":"#1a1a1a"},{"offset":0.4386,"color":"#fff"},{"offset":0.5614,"color":"#fff"},{"offset":0.5614,"color":"#1a1a1a"},{"offset":0.5814,"color":"#1a1a1a"},{"offset":0.5814,"color":"#fff"},{"offset":0.7043,"color":"#fff"},{"offset":0.7043,"color":"#1a1a1a"},{"offset":0.7243,"color":"#1a1a1a"},{"offset":0.7243,"color":"#fff"},{"offset":0.8471,"color":"#fff"},{"offset":0.8471,"color":"#1a1a1a"},{"offset":0.8671,"color":"#1a1a1a"},{"offset":0.8671,"color":"#fff"},{"offset":1,"color":"#fff"}]}}},
  {"transform":[{"filter":"datum.g == 'JPF3'"}],"mark":{"type":"bar","fill":{"gradient":"linear","x1":0,"y1":0,"x2":1.102,"y2":0.87,"stops":[{"offset":0,"color":"#fff"},{"offset":0.051,"color":"#fff"},{"offset":0.051,"color":"#1a1a1a"},{"offset":0.069,"color":"#1a1a1a"},{"offset":0.069,"color":"#fff"},{"offset":0.159,"color":"#fff"},{"offset":0.159,"color":"#1a1a1a"},{"offset":0.177,"color":"#1a1a1a"},{"offset":0.177,"color":"#fff"},{"offset":0.267,"color":"#fff"},{"offset":0.267,"color":"#1a1a1a"},{"offset":0.285,"color":"#1a1a1a"},{"offset":0.285,"color":"#fff"},{"offset":0.375,"color":"#fff"},{"offset":0.375,"color":"#1a1a1a"},{"offset":0.393,"color":"#1a1a1a"},{"offset":0.393,"color":"#fff"},{"offset":0.483,"color":"#fff"},{"offset":0.483,"color":"#1a1a1a"},{"offset":0.501,"color":"#1a1a1a"},{"offset":0.501,"color":"#fff"},{"offset":0.591,"color":"#fff"},{"offset":0.591,"color":"#1a1a1a"},{"offset":0.609,"color":"#1a1a1a"},{"offset":0.609,"color":"#fff"},{"offset":0.699,"color":"#fff"},{"offset":0.699,"color":"#1a1a1a"},{"offset":0.717,"color":"#1a1a1a"},{"offset":0.717,"color":"#fff"},{"offset":0.807,"color":"#fff"},{"offset":0.807,"color":"#1a1a1a"},{"offset":0.825,"color":"#1a1a1a"},{"offset":0.825,"color":"#fff"},{"offset":0.915,"color":"#fff"},{"offset":0.915,"color":"#1a1a1a"},{"offset":0.933,"color":"#1a1a1a"},{"offset":0.933,"color":"#fff"},{"offset":1,"color":"#fff"}]}}},
  {"mark":{"type":"bar","fill":"transparent","stroke":"#1a1a1a","strokeWidth":2}},
  {"transform":[{"filter":"datum.upper > datum.mean"}],"mark":{"type":"rule","stroke":"#1a1a1a","strokeWidth":2},"encoding":{"y2":{"field":"upper"}}},
  {"transform":[{"filter":"datum.upper > datum.mean"}],"mark":{"type":"tick","color":"#1a1a1a","size":34,"thickness":2,"opacity":1},"encoding":{"y":{"field":"upper","type":"quantitative"}}},
  {"transform":[{"filter":"datum.sig != ''"}],"mark":{"type":"text","font":"Liberation Serif","fontSize":21,"color":"#1a1a1a","baseline":"alphabetic","dy":-0.5},"encoding":{"y":{"field":"upper","type":"quantitative"},"text":{"field":"sig"}}},
  {"transform":[{"filter":"datum.g == 'VT'"}],"mark":{"type":"rule","stroke":"#1a1a1a","strokeWidth":1.5,"xOffset":-22,"x2Offset":33},"encoding":{"x":{"datum":"VT"},"x2":{"datum":"JPF3"},"y":{"datum":-9.97}}}
 ]
}
]
}
